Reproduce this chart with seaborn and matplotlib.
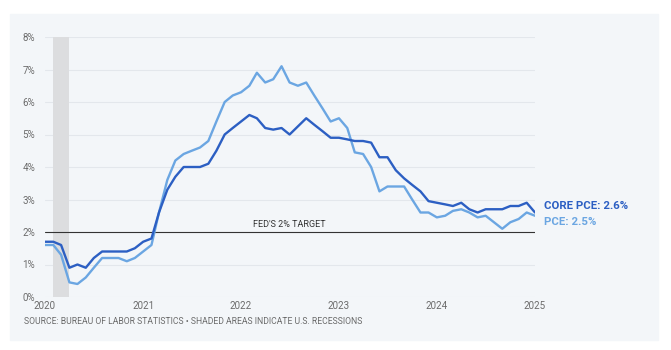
import pandas as pd
import matplotlib.pyplot as plt
from matplotlib.patches import Rectangle
import seaborn as sns

# monthly year-over-year change, Jan 2020 .. Jan 2025
core_pce = [1.7, 1.7, 1.6, 0.9, 1.0, 0.9, 1.2, 1.4, 1.4, 1.4, 1.4, 1.5,
            1.7, 1.8, 2.6, 3.3, 3.7, 4.0, 4.0, 4.0, 4.1, 4.5, 5.0, 5.2,
            5.4, 5.6, 5.5, 5.2, 5.15, 5.2, 5.0, 5.25, 5.5, 5.3, 5.1, 4.9,
            4.9, 4.85, 4.8, 4.8, 4.75, 4.3, 4.3, 3.9, 3.65, 3.45, 3.25, 2.95,
            2.9, 2.85, 2.8, 2.9, 2.7, 2.6, 2.7, 2.7, 2.7, 2.8, 2.8, 2.9,
            2.6]
pce = [1.6, 1.6, 1.3, 0.45, 0.4, 0.6, 0.9, 1.2, 1.2, 1.2, 1.1, 1.2,
       1.4, 1.6, 2.6, 3.6, 4.2, 4.4, 4.5, 4.6, 4.8, 5.4, 6.0, 6.2,
       6.3, 6.5, 6.9, 6.6, 6.7, 7.1, 6.6, 6.5, 6.6, 6.2, 5.8, 5.4,
       5.5, 5.2, 4.45, 4.4, 4.0, 3.25, 3.4, 3.4, 3.4, 3.0, 2.6, 2.6,
       2.45, 2.5, 2.65, 2.7, 2.6, 2.45, 2.5, 2.3, 2.1, 2.3, 2.4, 2.6,
       2.5]
months = pd.date_range('2020-01-01', periods=len(pce), freq='MS')
year_ticks = ['2020', '2021', '2022', '2023', '2024', '2025']
pct_ticks = [0, 1, 2, 3, 4, 5, 6, 7, 8]
recession = ('2020-02-01', '2020-04-01')

df = pd.DataFrame({'date': months, 'Core PCE': core_pce, 'PCE': pce})

dark = '#2c5fc3'
light = '#6ba6e2'
bg = '#f3f6f9'

sns.set_style('white')
plt.rcParams['font.family'] = ['Roboto', 'DejaVu Sans']

fig = plt.figure(figsize=(6.71, 3.5), dpi=100)
fig.patches.append(Rectangle((10 / 671, 10 / 350), 648 / 671, 326 / 350,
                             transform=fig.transFigure, color=bg, zorder=-5))
ax = fig.add_axes([45 / 671, 53 / 350, 490 / 671, 260 / 350])
ax.set_facecolor('none')
ax.set_zorder(2)

ax.axvspan(pd.Timestamp(recession[0]), pd.Timestamp(recession[1]),
           color='#dcdddf', zorder=1, lw=0)
ax.axhline(2, color='#333333', lw=0.8, zorder=2)
ax.text(pd.Timestamp('2022-07-01'), 2.08, "FED'S 2% TARGET", fontsize=6.5,
        color='#333333', ha='center', va='bottom')

sns.lineplot(data=df, x='date', y='PCE', color=light, lw=1.7, ax=ax, zorder=3)
sns.lineplot(data=df, x='date', y='Core PCE', color=dark, lw=1.7, ax=ax, zorder=4)

ax.set_xlim(pd.Timestamp('2020-01-01'), pd.Timestamp('2025-01-01'))
ax.set_ylim(0, 8)
ax.set_yticks(pct_ticks)
ax.set_yticklabels([f'{v}%' for v in pct_ticks])
ax.set_xticks([pd.Timestamp(f'{y}-01-01') for y in year_ticks])
ax.set_xticklabels(year_ticks)
ax.grid(axis='y', color='#e3e7ec', lw=0.8)
ax.set_axisbelow(True)
ax.tick_params(axis='both', length=0, labelsize=7, labelcolor='#6b6b6b')
ax.tick_params(axis='y', pad=7)
ax.tick_params(axis='x', pad=3)
ax.set_xlabel('')
ax.set_ylabel('')
sns.despine(ax=ax, left=True, bottom=True)

ax.text(1.018, core_pce[-1] + 0.2, 'CORE PCE: 2.6%', transform=ax.get_yaxis_transform(),
        color=dark, fontsize=8.2, fontweight='bold', va='center')
ax.text(1.018, pce[-1] - 0.2, 'PCE: 2.5%', transform=ax.get_yaxis_transform(),
        color=light, fontsize=8.2, fontweight='bold', va='center')

fig.text(24 / 671, 1 - 322 / 350, 'SOURCE: BUREAU OF LABOR STATISTICS \u2022 SHADED AREAS INDICATE U.S. RECESSIONS',
         fontsize=6.2, color='#6b6b6b', va='center')

fig.savefig('out.png', dpi=100)
